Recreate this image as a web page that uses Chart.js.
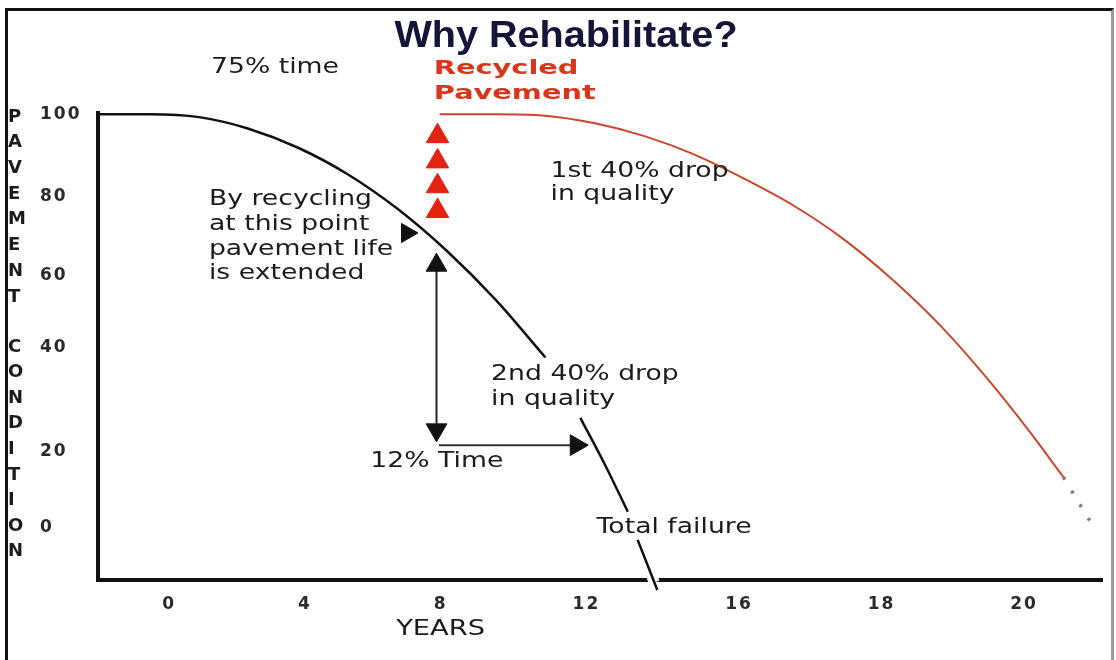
<!DOCTYPE html>
<html lang="en">
<head>
  <meta charset="UTF-8">
  <title>Why Rehabilitate?</title>
  <script src="https://cdn.jsdelivr.net/npm/chart.js"></script>
  <style>
    html, body {
      margin: 0;
      background: white;
    }
    #wrap {
      position: relative;
      width: 1116px;
      height: 660px;
    }
    #frame {
      position: absolute;
      left: 5px;
      top: 8px;
      width: 1103px;
      height: 660px;
      border: 3px solid #111;
      border-right-color: #9a9a9a;
      border-bottom: none;
      pointer-events: none;
    }
  </style>
</head>
<body>
  <div id="wrap">
    <canvas id="chart" width="1116" height="660"></canvas>
    <div id="frame"></div>
  </div>

  <script>
    // axis ticks (x is drawn in "sketch years": the labels after 12 are not to scale in the original)
    const xTickAt = [0, 4, 8, 12.3, 16.8, 21, 25.2];
    const xTickText = ['0', '4', '8', '12', '16', '18', '20'];
    const yTickAt = [0, 18.5, 43.5, 61, 80, 100];
    const yTickText = ['0', '20', '40', '60', '80', '100'];

    // original pavement, null = break in the drawn line
    const oldX = [-2.1, -0.58, 0.88, 2.34, 3.8, 5.26, 6.72, 8.18, 9.64, 11.09, 11.6, 12.12, 12.85, 13.52, 13.67, 13.81, 14.39];
    const oldY = [100, 100, 99.3, 96.5, 91.9, 85.5, 77.2, 67.0, 55.0, 41.2, null, 26.6, 15.2, 3.9, null, -2.9, -15];
    // where it cuts through the x axis
    const crossX = [13.95, 14.3];
    const crossY = [-5.8, -13.2];

    // recycled pavement
    const newX = [7.97, 9.64, 11.01, 12.55, 14.01, 15.47, 16.93, 18.39, 19.85, 21.31, 22.77, 24.23, 25.4, 26.36];
    const newY = [100, 100, 99.7, 97.8, 94.7, 90.3, 84.5, 78.0, 70.0, 60.1, 48.6, 35.0, 22.9, 12.3];
    const tailX = [26.36, 27.3];
    const tailY = [12.3, -0.5];

    // arrows
    const upDownX = [7.88, 7.88];
    const upDownY = [63.5, 23.7];
    const timeX = [7.95, 12.0];
    const timeY = [20, 20];
    const headX = [7.88, 7.88, 12.0, 7.01];
    const headY = [63.5, 23.7, 20, 71.3];

    // red markers
    const markX = [7.91, 7.91, 7.91, 7.91];
    const markY = [94.7, 88.6, 82.6, 76.6];

    const pts = (xs, ys) => xs.map((v, i) => ({ x: v, y: ys[i] }));

    const notes = [
      { text: '75% time', x: 1.23, y: 109.9 },
      { text: '1st 40% drop', x: 11.24, y: 84.8 },
      { text: 'in quality', x: 11.24, y: 79.2 },
      { text: 'By recycling', x: 1.17, y: 78.0 },
      { text: 'at this point', x: 1.17, y: 72.0 },
      { text: 'pavement life', x: 1.17, y: 65.9 },
      { text: 'is extended', x: 1.17, y: 60.1 },
      { text: '2nd 40% drop', x: 9.49, y: 35.7 },
      { text: 'in quality', x: 9.49, y: 29.7 },
      { text: '12% Time', x: 5.93, y: 14.7 },
      { text: 'Total failure', x: 12.6, y: -1.2 }
    ];
    const redNotes = [
      { text: 'Recycled', x: 7.8, y: 109.7 },
      { text: 'Pavement', x: 7.8, y: 103.6 }
    ];

    function stretched(ctx, text, px, py, sx, align) {
      ctx.save();
      ctx.translate(px, py);
      ctx.scale(sx, 1);
      ctx.textAlign = align;
      ctx.fillText(text, 0, 0);
      ctx.restore();
    }

    const decor = {
      id: 'decor',
      beforeDraw(chart) {
        chart.ctx.letterSpacing = '2px';
      },
      afterDraw(chart) {
        const { ctx, scales: { x, y } } = chart;
        ctx.save();
        ctx.letterSpacing = '0px';
        ctx.textBaseline = 'alphabetic';

        ctx.fillStyle = '#15153a';
        ctx.font = 'bold 37px "Liberation Sans"';
        stretched(ctx, 'Why Rehabilitate?', 566, 47, 1.07, 'center');

        ctx.fillStyle = '#1c1c1c';
        ctx.font = '21px "DejaVu Sans"';
        notes.forEach(n => stretched(ctx, n.text, x.getPixelForValue(n.x), y.getPixelForValue(n.y), 1.27, 'left'));
        stretched(ctx, 'YEARS', x.getPixelForValue(8), 635, 1.3, 'center');

        ctx.fillStyle = '#d8351a';
        ctx.font = 'bold 20px "DejaVu Sans"';
        redNotes.forEach(n => stretched(ctx, n.text, x.getPixelForValue(n.x), y.getPixelForValue(n.y), 1.44, 'left'));

        // vertical axis title, one letter per line
        ctx.fillStyle = '#1c1c1c';
        ctx.font = 'bold 18px "DejaVu Sans"';
        ctx.textBaseline = 'middle';
        ctx.textAlign = 'left';
        'PAVEMENT'.split('').forEach((c, i) => ctx.fillText(c, 8, 117 + i * 25.7));
        'CONDITION'.split('').forEach((c, i) => ctx.fillText(c, 8, 347 + i * 25.6));
        ctx.restore();
      }
    };

    const tickFont = { family: '"DejaVu Sans"', size: 17, weight: 'bold' };

    new Chart(document.getElementById('chart'), {
      type: 'scatter',
      data: {
        datasets: [
          {
            data: pts(markX, markY),
            pointStyle: 'triangle',
            pointRadius: 13,
            pointBackgroundColor: '#e3230f',
            pointBorderColor: '#e3230f',
            pointBorderWidth: 1
          },
          {
            data: pts(headX, headY),
            pointStyle: 'triangle',
            pointRadius: [12, 12, 12, 11],
            pointRotation: [0, 180, 90, 90],
            pointBackgroundColor: '#111',
            pointBorderColor: '#111',
            pointBorderWidth: 1
          },
          {
            data: pts(upDownX, upDownY),
            showLine: true,
            borderColor: '#222',
            borderWidth: 2,
            pointRadius: 0
          },
          {
            data: pts(timeX, timeY),
            showLine: true,
            borderColor: '#333',
            borderWidth: 2,
            pointRadius: 0
          },
          {
            data: pts(oldX, oldY),
            showLine: true,
            spanGaps: false,
            borderColor: '#111',
            borderWidth: 2.5,
            pointRadius: 0,
            cubicInterpolationMode: 'monotone',
            clip: false
          },
          {
            // white halo that breaks the x axis around the falling line
            data: pts(crossX, crossY),
            showLine: true,
            borderColor: '#fff',
            borderWidth: 11,
            pointRadius: 0,
            clip: false
          },
          {
            data: pts(newX, newY),
            showLine: true,
            borderColor: '#c8472c',
            borderWidth: 2,
            pointRadius: 0,
            cubicInterpolationMode: 'monotone'
          },
          {
            data: pts(tailX, tailY),
            showLine: true,
            borderColor: '#8c7878',
            borderWidth: 3.5,
            borderDash: [3, 13],
            pointRadius: 0
          }
        ]
      },
      options: {
        responsive: false,
        animation: false,
        events: [],
        layout: { padding: { left: 40, top: 113, right: 4, bottom: 0 } },
        plugins: {
          legend: { display: false },
          tooltip: { enabled: false }
        },
        scales: {
          x: {
            type: 'linear',
            min: -2.1,
            max: 27.5,
            grid: { display: false, drawTicks: false },
            border: { display: true, color: '#111', width: 4 },
            afterBuildTicks: scale => { scale.ticks = xTickAt.map(v => ({ value: v })); },
            afterFit: scale => { scale.height = 80; },
            ticks: {
              autoSkip: false,
              maxRotation: 0,
              padding: 14,
              color: '#2a2a2a',
              font: tickFont,
              callback: (value, index) => xTickText[index]
            }
          },
          y: {
            type: 'linear',
            min: -12.6,
            max: 100.3,
            grid: { display: false, drawTicks: false },
            border: { display: true, color: '#111', width: 4 },
            afterBuildTicks: scale => { scale.ticks = yTickAt.map(v => ({ value: v })); },
            afterFit: scale => { scale.width = 58; },
            ticks: {
              autoSkip: false,
              crossAlign: 'far',
              color: '#2a2a2a',
              font: tickFont,
              callback: (value, index) => yTickText[index]
            }
          }
        }
      },
      plugins: [decor]
    });
  </script>
</body>
</html>
